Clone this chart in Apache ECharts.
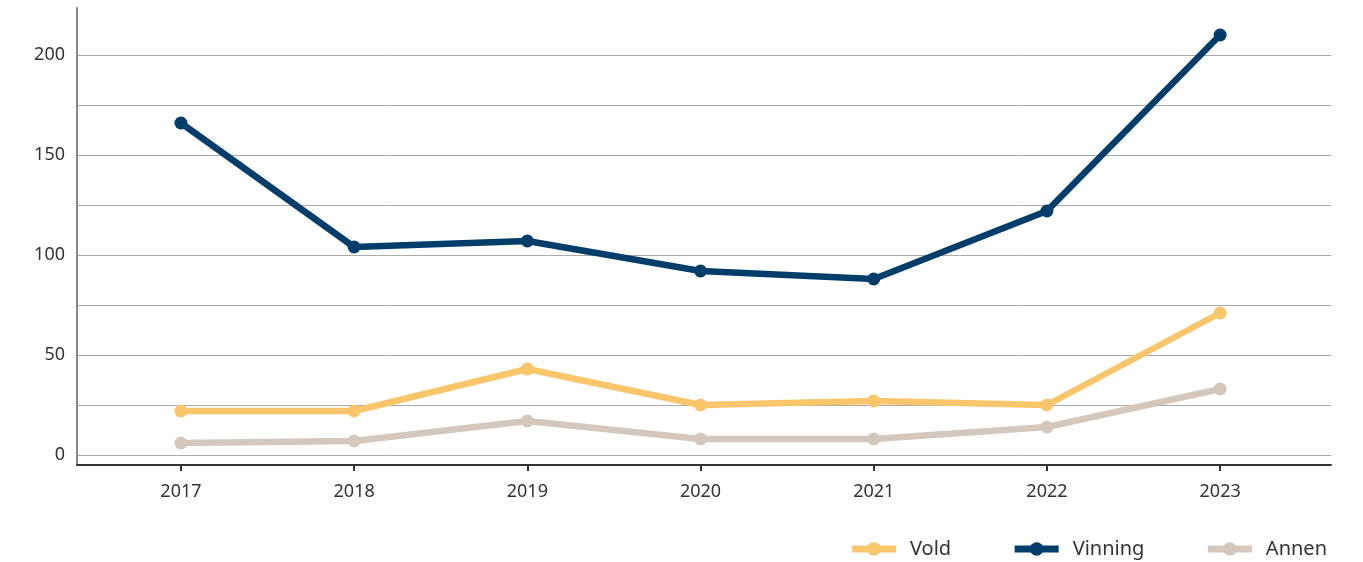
<!DOCTYPE html>
<html>
<head>
<meta charset="utf-8">
<script src="https://cdn.jsdelivr.net/npm/echarts@6/dist/echarts.min.js"></script>
<style>
  html, body, #main { width: 100%; height: 100%; margin: 0; background: #fff; }
</style>
</head>
<body>
<div id="main"></div>
<script>
var years = [2017, 2018, 2019, 2020, 2021, 2022, 2023];
var vold = [22, 22, 43, 25, 27, 25, 71];
var vinning = [166, 104, 107, 92, 88, 122, 210];
var annen = [6, 7, 17, 8, 8, 14, 33];
var yLabels = [0, 50, 100, 150, 200];
var yGrid = [0, 25, 50, 75, 100, 125, 150, 175, 200];

function pairs(vals) {
    return vals.map(function (v, i) { return [years[i], v]; });
}

var font = 'Noto Sans';
var chart = echarts.init(document.getElementById('main'));

function line(name, vals, color) {
    return {
        name: name,
        type: 'line',
        data: pairs(vals),
        symbol: 'circle',
        symbolSize: 13,
        lineStyle: { width: 6.5, color: color },
        itemStyle: { color: color },
        emphasis: { disabled: true }
    };
}

chart.setOption({
    animation: false,
    textStyle: { fontFamily: font },
    grid: { left: 77, right: 32, top: 8, bottom: 97 },
    legend: {
        right: 31,
        top: 534,
        itemWidth: 44,
        itemHeight: 17,
        itemGap: 60,
        lineStyle: { width: 7 },
        textStyle: { fontSize: 20, color: '#333', fontFamily: font, padding: [0, 0, 0, 9] },
        data: ['Vold', 'Vinning', 'Annen']
    },
    xAxis: {
        type: 'value',
        min: 2016.4,
        max: 2023.64,
        axisLine: { show: true, onZero: false, lineStyle: { color: '#333', width: 2 } },
        axisTick: { show: true, length: 6, customValues: years, lineStyle: { color: '#333', width: 2 } },
        axisLabel: {
            customValues: years,
            margin: 18,
            fontSize: 18,
            color: '#333',
            formatter: function (v) { return String(v); }
        },
        splitLine: { show: false }
    },
    yAxis: {
        type: 'value',
        min: -5,
        max: 223.5,
        axisLine: { show: true, lineStyle: { color: '#888', width: 2 } },
        axisTick: { show: false, customValues: yGrid },
        axisLabel: { customValues: yLabels, margin: 12, fontSize: 18, color: '#333' },
        splitLine: { show: true, lineStyle: { color: '#aaa', width: 1 } }
    },
    series: [
        line('Vold', vold, '#F9C66B'),
        line('Vinning', vinning, '#003D6B'),
        line('Annen', annen, '#D5C7BC')
    ]
});
</script>
</body>
</html>
